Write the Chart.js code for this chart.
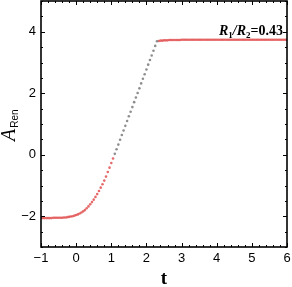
<!DOCTYPE html>
<html>
<head>
<meta charset="utf-8">
<script src="https://cdn.jsdelivr.net/npm/chart.js@4/dist/chart.umd.min.js"></script>
<style>
  html, body { margin: 0; padding: 0; background: #fff; }
  #wrap { width: 292px; height: 287px; }
</style>
</head>
<body>
<div id="wrap"><canvas id="chart"></canvas></div>
<script>
// values
const tEarly = [-1.00, -0.95, -0.90, -0.85, -0.80, -0.75, -0.70, -0.65, -0.60, -0.55,
  -0.50, -0.45, -0.40, -0.35, -0.30, -0.25, -0.20, -0.15, -0.10, -0.05,
  0.00, 0.05, 0.10, 0.15, 0.20, 0.25, 0.30, 0.35, 0.40, 0.45,
  0.50, 0.55, 0.60, 0.65, 0.70, 0.75, 0.80, 0.85, 0.90, 0.95, 1.00, 1.05];
const aEarly = [-2.06, -2.06, -2.06, -2.06, -2.06, -2.06, -2.06, -2.05, -2.05, -2.05,
  -2.05, -2.05, -2.05, -2.04, -2.04, -2.03, -2.02, -2.01, -2.00, -1.98,
  -1.96, -1.94, -1.91, -1.88, -1.84, -1.80, -1.74, -1.68, -1.61, -1.54,
  -1.46, -1.37, -1.28, -1.18, -1.07, -0.96, -0.84, -0.71, -0.56, -0.42, -0.27, -0.12];

const tRamp = [1.10, 1.15, 1.20, 1.25, 1.30, 1.35, 1.40, 1.45, 1.50, 1.55,
  1.60, 1.65, 1.70, 1.75, 1.80, 1.85, 1.90, 1.95, 2.00, 2.05,
  2.10, 2.15, 2.20, 2.25, 2.30];
const aRamp = [0.03, 0.18, 0.33, 0.49, 0.64, 0.79, 0.94, 1.10, 1.25, 1.40,
  1.55, 1.71, 1.86, 2.01, 2.16, 2.32, 2.47, 2.62, 2.77, 2.93,
  3.08, 3.23, 3.38, 3.54, 3.69];

const tLate = [2.35, 2.40, 2.45, 2.50, 2.55, 2.60, 2.65, 2.70, 2.75, 2.80,
  2.85, 2.90, 2.95, 3.00, 3.05, 3.10, 3.15, 3.20, 3.25, 3.30,
  3.35, 3.40, 3.45, 3.50, 3.55, 3.60, 3.65, 3.70, 3.75, 3.80,
  3.85, 3.90, 3.95, 4.00, 4.05, 4.10, 4.15, 4.20, 4.25, 4.30,
  4.35, 4.40, 4.45, 4.50, 4.55, 4.60, 4.65, 4.70, 4.75, 4.80,
  4.85, 4.90, 4.95, 5.00, 5.05, 5.10, 5.15, 5.20, 5.25, 5.30,
  5.35, 5.40, 5.45, 5.50, 5.55, 5.60, 5.65, 5.70, 5.75, 5.80,
  5.85, 5.90, 5.95, 6.00];
const aLate = [3.70, 3.71, 3.71, 3.72, 3.72, 3.72, 3.73, 3.73, 3.73, 3.73,
  3.73, 3.73, 3.73, 3.74, 3.74, 3.74, 3.74, 3.74, 3.74, 3.74,
  3.74, 3.74, 3.74, 3.74, 3.74, 3.74, 3.74, 3.74, 3.74, 3.74,
  3.74, 3.74, 3.74, 3.74, 3.74, 3.74, 3.74, 3.74, 3.74, 3.74,
  3.74, 3.74, 3.74, 3.74, 3.74, 3.74, 3.74, 3.74, 3.74, 3.74,
  3.74, 3.74, 3.74, 3.74, 3.74, 3.74, 3.74, 3.74, 3.74, 3.74,
  3.74, 3.74, 3.74, 3.74, 3.74, 3.74, 3.74, 3.74, 3.74, 3.74,
  3.74, 3.74, 3.74, 3.74];

const xTicks = [-1, 0, 1, 2, 3, 4, 5, 6];
const yTickLabels = [-2, 0, 2, 4];
const ratioText = '0.43';

function pts(xs, ys) {
  return xs.map((x, i) => ({ x: x, y: ys[i] }));
}

const red = 'rgba(226, 80, 80, 0.85)';
const grey = 'rgba(130, 130, 130, 0.9)';

// inward ticks on all four sides, major + minor like the original frame
const frameTicks = {
  id: 'frameTicks',
  afterDraw(chart) {
    const ctx = chart.ctx;
    const a = chart.chartArea;
    const xs = chart.scales.x, ys = chart.scales.y;
    ctx.save();
    ctx.strokeStyle = '#000';
    ctx.lineWidth = 1;
    for (let v = -1; v <= 6.001; v += 0.2) {
      const major = Math.abs(v - Math.round(v)) < 1e-6;
      const len = major ? 4 : 2;
      const px = Math.round(xs.getPixelForValue(v)) + 0.5;
      ctx.beginPath();
      ctx.moveTo(px, a.bottom); ctx.lineTo(px, a.bottom - len);
      ctx.moveTo(px, a.top); ctx.lineTo(px, a.top + len);
      ctx.stroke();
    }
    for (let v = -3; v <= 5.001; v += 0.5) {
      const major = Math.abs(v / 2 - Math.round(v / 2)) < 1e-6;
      const len = major ? 4 : 2;
      const py = Math.round(ys.getPixelForValue(v)) + 0.5;
      ctx.beginPath();
      ctx.moveTo(a.left, py); ctx.lineTo(a.left + len, py);
      ctx.moveTo(a.right, py); ctx.lineTo(a.right - len, py);
      ctx.stroke();
    }
    ctx.lineWidth = 1.6;
    ctx.strokeRect(a.left, a.top, a.right - a.left, a.bottom - a.top);

    // axis titles
    ctx.fillStyle = '#000';
    ctx.textBaseline = 'alphabetic';
    ctx.font = 'bold 19px "Liberation Serif", "Times New Roman", serif';
    ctx.textAlign = 'center';
    ctx.fillText('t', (a.left + a.right) / 2, 284);

    ctx.save();
    ctx.translate(15, 141);
    ctx.rotate(-Math.PI / 2);
    ctx.textAlign = 'left';
    ctx.font = 'italic 20px "Liberation Serif", serif';
    ctx.fillText('A', 0, 0);
    const wA = ctx.measureText('A').width;
    ctx.font = '10px "Liberation Sans", Arial, sans-serif';
    ctx.fillText('Ren', wA + 1, 3);
    ctx.restore();

    // ratio annotation, right aligned near the top right
    const parts = [
      ['R', 'bold italic 14px "Liberation Serif", serif', 0],
      ['1', 'bold 9px "Liberation Serif", serif', 3],
      ['/', 'bold italic 14px "Liberation Serif", serif', 0],
      ['R', 'bold italic 14px "Liberation Serif", serif', 0],
      ['2', 'bold 9px "Liberation Serif", serif', 3],
      ['=' + ratioText, 'bold 14px "Liberation Serif", serif', 0]
    ];
    let total = 0;
    parts.forEach(p => { ctx.font = p[1]; total += ctx.measureText(p[0]).width; });
    let x = a.right - 4 - total;
    const base = ys.getPixelForValue(3.9);
    ctx.textAlign = 'left';
    parts.forEach(p => {
      ctx.font = p[1];
      ctx.fillText(p[0], x, base + p[2]);
      x += ctx.measureText(p[0]).width;
    });
    ctx.restore();
  }
};

const tickFont = { family: '"Liberation Sans", Arial, sans-serif', size: 13 };

new Chart(document.getElementById('chart'), {
  type: 'scatter',
  data: {
    datasets: [
      { data: pts(tEarly, aEarly), backgroundColor: red, borderColor: red },
      { data: pts(tRamp, aRamp), backgroundColor: grey, borderColor: grey },
      { data: pts(tLate, aLate), backgroundColor: red, borderColor: red }
    ]
  },
  options: {
    responsive: true,
    maintainAspectRatio: false,
    animation: false,
    layout: { autoPadding: false, padding: { left: 0, right: 5, top: 1, bottom: 0 } },
    elements: { point: { radius: 1.3, borderWidth: 0, hoverRadius: 1.3 } },
    plugins: { legend: { display: false }, tooltip: { enabled: false } },
    scales: {
      x: {
        type: 'linear', min: -1, max: 6,
        grid: { display: false, drawTicks: false },
        border: { display: false },
        afterBuildTicks: s => { s.ticks = xTicks.map(v => ({ value: v })); },
        afterFit: s => { s.height = 40; s.paddingLeft = 0; s.paddingRight = 0; },
        ticks: {
          color: '#000', font: tickFont, padding: 4, maxRotation: 0,
          callback: v => (v < 0 ? '\u2212' + Math.abs(v) : String(v))
        }
      },
      y: {
        type: 'linear', min: -3, max: 5,
        grid: { display: false, drawTicks: false },
        border: { display: false },
        afterBuildTicks: s => { s.ticks = yTickLabels.map(v => ({ value: v })); },
        afterFit: s => { s.width = 41; s.paddingTop = 0; s.paddingBottom = 0; },
        ticks: {
          color: '#000', font: tickFont, padding: 5,
          callback: v => (v < 0 ? '\u2212' + Math.abs(v) : String(v))
        }
      }
    }
  },
  plugins: [frameTicks]
});
</script>
</body>
</html>
